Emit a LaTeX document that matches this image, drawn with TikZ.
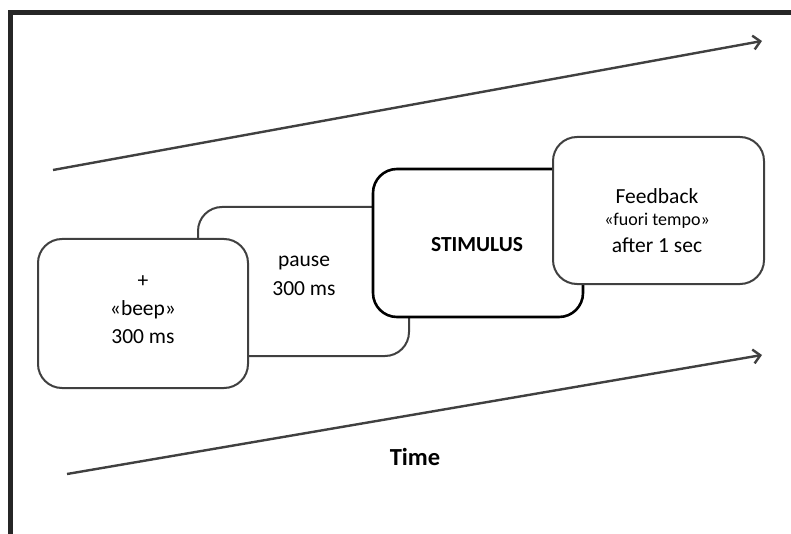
\documentclass[tikz,border=0pt]{standalone}
\usepackage{fontspec}
\setmainfont{Carlito}
\usetikzlibrary{arrows.meta}
\definecolor{framec}{HTML}{262626}
\definecolor{linec}{HTML}{404040}
\begin{document}
\begin{tikzpicture}[x=1pt,y=-1pt,
  card/.style={draw=linec,line width=2pt,fill=white,rounded corners=24pt},
  bigcard/.style={draw=black,line width=2.6pt,fill=white,rounded corners=24pt},
  lbl/.style={inner sep=0pt,font=\fontsize{21.5}{25}\selectfont},
  small/.style={inner sep=0pt,font=\fontsize{18}{21}\selectfont},
  timearrow/.style={draw=linec,line width=2.4pt,-{Straight Barb[length=7pt,width=14pt,line width=2.4pt]}}]
\useasboundingbox (0,0) rectangle (791,534);
% frame
\draw[framec,line width=5pt] (10.5,534) -- (10.5,12.5) -- (791,12.5);
% arrows
\coordinate (a1s) at (53,170);
\coordinate (a1e) at (762,41);
\coordinate (a2s) at (67,474);
\coordinate (a2e) at (762,355);
\draw[timearrow] (a1s) -- (a1e);
\draw[timearrow] (a2s) -- (a2e);
% boxes
\draw[card] (198,207) rectangle (409,356) coordinate (pausebox);
\draw[card] (38,239) rectangle (248,388) coordinate (beepbox);
\draw[bigcard] (373,169) rectangle (583,317) coordinate (stimbox);
\draw[card] (553,137) rectangle (764,284) coordinate (fbbox);
% texts
\node[lbl] (plus) at (143,282) {+};
\node[lbl] (beep) at (143,310) {«beep»};
\node[lbl] (ms1) at (143,337) {300 ms};
\node[lbl] (pause) at (304,263) {pause};
\node[lbl] (ms2) at (304,289) {300 ms};
\node[lbl,font=\fontsize{21.5}{25}\selectfont\bfseries] (stim) at (477,245) {STIMULUS};
\node[lbl] (fb) at (657,196) {Feedback};
\node[small] (fuori) at (657,221) {«fuori tempo»};
\node[lbl] (after) at (657,245) {after 1 sec};
\node[lbl,font=\fontsize{24.5}{28}\selectfont\bfseries] (time) at (415,457) {Time};
\end{tikzpicture}
\end{document}
